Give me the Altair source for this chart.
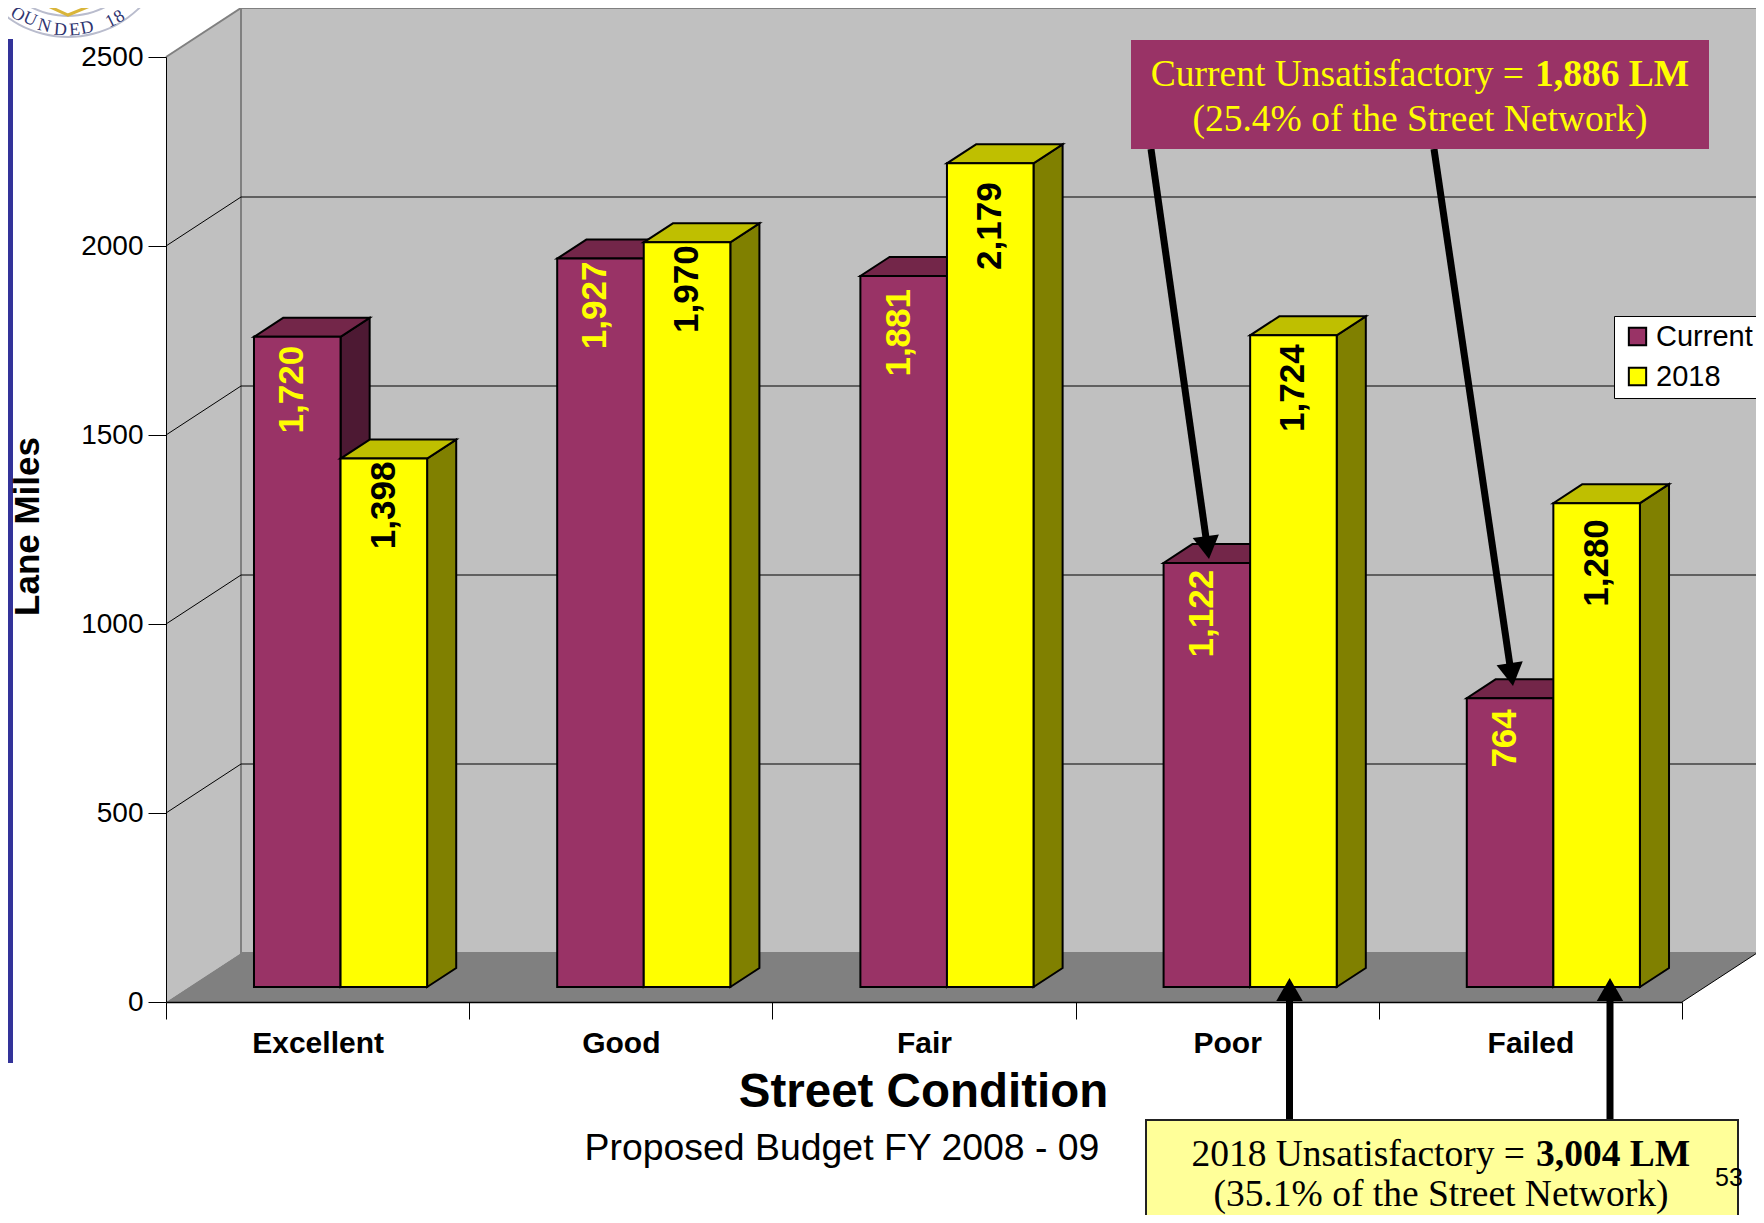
import math
import altair as alt
import pandas as pd

# ---- values
categories = ["Excellent", "Good", "Fair", "Poor", "Failed"]
current = [1720, 1927, 1881, 1122, 764]
future = [1398, 1970, 2179, 1724, 1280]
y_ticks = [0, 500, 1000, 1500, 2000, 2500]

# ---- layout of the 3D box (page pixels)
X0, Y0, PX_U, PX_V = 166.0, 1002.0, 303.2, 0.378
DX = 75 / PX_U          # full depth in category units
DY = 49 / PX_V          # full depth in value units
D0, D1 = 0.306, 0.694   # depth span of the bars
HALF = 0.2855           # bar width in category units
PURPLE, PURPLE_TOP, PURPLE_SIDE = "#993366", "#732649", "#4d1933"
YELLOW, YELLOW_TOP, YELLOW_SIDE = "#ffff00", "#bfbf00", "#808000"
GAP_CUR = [9, 3, 13, 7, 11]
GAP_FUT = [3, 3, 19, 9, 16]
LABEL_SHIFT = {-1: -5.0, 0: 0.0}


def U(px):
    return (px - X0) / PX_U


def V(py):
    return (Y0 - py) / PX_V


xs = alt.Scale(domain=[0, 5], range=[0, 1516], nice=False, zero=False)
ys = alt.Scale(domain=[0, 2500], range=[945, 0], nice=False, zero=False)

x_axis = alt.Axis(
    values=list(range(6)),
    labelExpr="['" + "','".join(categories) + "',''][datum.value]",
    labelOffset=151.6, labelAngle=0, labelFont="Liberation Sans", labelFontWeight="bold",
    labelFontSize=30, labelColor="black", labelPadding=9, labelOverlap=False, labelFlush=False,
    labelBound=False, tickSize=17, tickColor="black", domainColor="black", domainWidth=1.5, grid=False,
    title="Street Condition", titleFont="Liberation Sans", titleFontWeight="bold", titleFontSize=47.5,
    titleColor="black", titleX=757, titleY=104, titleAlign="center", titleBaseline="alphabetic",
    zindex=1,
)
y_axis = alt.Axis(
    values=y_ticks, format="d", labelFont="Liberation Sans", labelFontSize=28, labelColor="black",
    labelPadding=5, tickSize=18, tickColor="black", domainColor="black", grid=False,
    title="Lane Miles", titleFont="Liberation Sans", titleFontWeight="bold", titleFontSize=35,
    titleColor="black", titleX=-139, titleY=469, titleAngle=270, titleAlign="center", titleBaseline="middle",
    zindex=1,
)


def X(f="u"):
    return alt.X(f"{f}:Q", scale=xs, axis=x_axis)


def Y(f="v"):
    return alt.Y(f"{f}:Q", scale=ys, axis=y_axis)


def faces(values, left_of):
    side, top, front = [], [], []
    for i, v in enumerate(values):
        ul = i + 0.5 + left_of * HALF
        ur = ul + HALF
        for d in (D0, D1):
            side.append(dict(k=i, u=ur + DX * d, v=v + DY * d, b=DY * d))
            top.append(dict(k=i, u=ul + DX * d, u2=ur + DX * d, v=v + DY * d))
        front.append(dict(u=ul + DX * D0, u2=ur + DX * D0, v=v + DY * D0, b=DY * D0))
    return pd.DataFrame(side), pd.DataFrame(top), pd.DataFrame(front)


def bar_layers(values, series, c_top, c_side, left_of):
    s, t, f = faces(values, left_of)
    f["series"] = series
    return [
        alt.Chart(s).mark_area(fill=c_side, stroke="black", strokeWidth=2, opacity=1).encode(
            x=X(), y=Y(), y2="b:Q", detail="k:N"),
        alt.Chart(t).mark_area(orient="horizontal", fill=c_top, stroke="black", strokeWidth=2, opacity=1).encode(
            y=Y(), x=X(), x2="u2:Q", detail="k:N"),
        alt.Chart(f).mark_rect(stroke="black", strokeWidth=2).encode(
            x=X(), x2="u2:Q", y=Y(), y2="b:Q",
            fill=alt.Fill("series:N", scale=alt.Scale(domain=["Current", "2018"], range=[PURPLE, YELLOW]),
                          legend=alt.Legend(orient="none", legendX=1448, legendY=259, title=None,
                                            fillColor="white", strokeColor="black", padding=6,
                                            symbolType="square", symbolSize=300, symbolStrokeWidth=2,
                                            symbolStrokeColor="black", symbolOpacity=1, symbolOffset=3,
                                            labelFont="Liberation Sans", labelFontSize=29, labelColor="black",
                                            rowPadding=10, labelLimit=200, offset=0))),
    ]


# ---- box
left_wall = pd.DataFrame(dict(u=[0, DX], v=[2500, 2500 + DY], b=[0, DY]))
back_wall = pd.DataFrame(dict(u=[DX], u2=[5 + DX], v=[2500 + DY], b=[DY]))
floor = pd.DataFrame(dict(u=[0, DX], u2=[5, 5 + DX], v=[0, DY]))
grid_vals = [v for v in y_ticks if 0 < v < 2500]
grid_back = pd.DataFrame(dict(u=DX, u2=5 + DX, v=[g + DY for g in grid_vals]))
grid_side = pd.DataFrame(dict(u=0.0, u2=DX, v=grid_vals, v2=[g + DY for g in grid_vals]))
edge_gray = pd.DataFrame(dict(u=[0.0], u2=[DX], v=[2500.0], v2=[2500 + DY]))
edge_blk = pd.DataFrame(dict(u=[5.0], u2=[5 + DX], v=[0.0], v2=[DY]))

layers = [
    alt.Chart(left_wall).mark_area(fill="#c0c0c0", opacity=1).encode(x=X(), y=Y(), y2="b:Q"),
    alt.Chart(back_wall).mark_rect(fill="#c0c0c0", stroke="#808080", strokeWidth=2).encode(
        x=X(), x2="u2:Q", y=Y(), y2="b:Q"),
    alt.Chart(floor).mark_area(orient="horizontal", fill="#808080", opacity=1).encode(
        y=Y(), x=X(), x2="u2:Q"),
    alt.Chart(grid_back).mark_rule(color="black", strokeWidth=1).encode(x=X(), x2="u2:Q", y=Y()),
    alt.Chart(grid_side).mark_rule(color="black", strokeWidth=1).encode(x=X(), x2="u2:Q", y=Y(), y2="v2:Q"),
    alt.Chart(edge_gray).mark_rule(color="#808080", strokeWidth=2).encode(x=X(), x2="u2:Q", y=Y(), y2="v2:Q"),
    alt.Chart(edge_blk).mark_rule(color="black", strokeWidth=1).encode(x=X(), x2="u2:Q", y=Y(), y2="v2:Q"),
]
layers += bar_layers(current, "Current", PURPLE_TOP, PURPLE_SIDE, -1)
layers += bar_layers(future, "2018", YELLOW_TOP, YELLOW_SIDE, 0)


# ---- value labels on the bars
def label_frame(values, gaps, left_of):
    return pd.DataFrame(dict(
        u=[i + 0.5 + (left_of + 0.5) * HALF + DX * D0 + LABEL_SHIFT[left_of] / PX_U for i in range(5)],
        v=[v + DY * D0 - g / PX_V for v, g in zip(values, gaps)],
        t=[f"{v:,}" for v in values]))


for vals, gaps, side, col in ((current, GAP_CUR, -1, "#ffff00"), (future, GAP_FUT, 0, "black")):
    layers.append(alt.Chart(label_frame(vals, gaps, side)).mark_text(
        angle=270, align="right", baseline="middle", font="Liberation Sans", fontWeight="bold",
        fontSize=35, color=col).encode(x=X(), y=Y(), text="t:N"))


def box(x1, x2, y1, y2, fill, stroke=None):
    d = pd.DataFrame(dict(u=[U(x1)], u2=[U(x2)], v=[V(y1)], b=[V(y2)]))
    kw = dict(stroke=stroke, strokeWidth=2) if stroke else {}
    return alt.Chart(d).mark_rect(fill=fill, **kw).encode(x=X(), x2="u2:Q", y=Y(), y2="b:Q")


def text(x, y, s, size, color, font, align="center", weight="normal", angle=0):
    d = pd.DataFrame(dict(u=[U(x)], v=[V(y)], t=[s]))
    return alt.Chart(d).mark_text(align=align, baseline="alphabetic", font=font, fontSize=size,
                                  color=color, fontWeight=weight, angle=angle).encode(
        x=X(), y=Y(), text="t:N")


def arrow(x1, y1, x2, y2):
    L = math.hypot(x2 - x1, y2 - y1)
    ux, uy = (x2 - x1) / L, (y2 - y1) / L
    ang = (math.degrees(math.atan2(ux, -uy))) % 360
    tip = 11.5
    shaft = pd.DataFrame(dict(u=[U(x1)], u2=[U(x2 - ux * 15)], v=[V(y1)], v2=[V(y2 - uy * 15)]))
    head = pd.DataFrame(dict(u=[U(x2 - ux * tip)], v=[V(y2 - uy * tip)]))
    return [
        alt.Chart(shaft).mark_rule(color="black", strokeWidth=7).encode(x=X(), x2="u2:Q", y=Y(), y2="v2:Q"),
        alt.Chart(head).mark_point(shape="triangle-up", filled=True, size=700, color="black", opacity=1,
                                   angle=ang, strokeWidth=0).encode(x=X(), y=Y()),
    ]


# ---- annotation boxes, arrows and page furniture
SERIF, SANS = "Liberation Serif", "Liberation Sans"
layers += arrow(1151, 149, 1209, 559) + arrow(1434, 149, 1513, 686)
layers += arrow(1289.5, 1120, 1289.5, 978) + arrow(1610, 1120, 1610, 978)
legend_edge = pd.DataFrame(dict(u=[U(1755)], v=[V(316)], v2=[V(396)]))
layers += [
    box(1131, 1709, 40, 149, PURPLE),
    text(1524, 86, "Current Unsatisfactory =", 37.5, "#ffff00", SERIF, "right"),
    text(1535, 86, "1,886 LM", 37.5, "#ffff00", SERIF, "left", "bold"),
    text(1420, 131, "(25.4% of the Street Network)", 37.5, "#ffff00", SERIF),
    box(1146, 1738, 1120, 1240, "#ffff99", "#222222"),
    text(1525, 1166, "2018 Unsatisfactory =", 37.5, "black", SERIF, "right"),
    text(1536, 1166, "3,004 LM", 37.5, "black", SERIF, "left", "bold"),
    text(1441, 1206, "(35.1% of the Street Network)", 37.5, "black", SERIF),
    text(1729, 1186, "53", 25, "black", SANS),
    text(842, 1160, "Proposed Budget FY 2008 - 09", 37.4, "black", SANS),
    box(6, 13, 39, 1063, "#333399"),
    alt.Chart(legend_edge).mark_rule(color="black", strokeWidth=1).encode(x=X(), y=Y(), y2="v2:Q"),
]

# ---- fragment of the seal at the top left
seal_x, seal_y = 68.0, -65.0
for r, r2, col in ((103, 101, "#b9bccd"), (82, 80, "#b9bccd")):
    layers.append(alt.Chart(pd.DataFrame(dict(u=[U(seal_x)], v=[V(seal_y)]))).mark_arc(
        radius=r, radius2=r2, theta=math.pi - 1.0, theta2=math.pi + 1.0, fill=col).encode(x=X(), y=Y()))
seal_letters = list("OUNDED18")
seal_px = [15, 28, 43, 60, 75, 88, 113, 122]
seal_py = [19, 24, 31, 35, 35, 33, 26, 21]
for ch, lx, ly in zip(seal_letters, seal_px, seal_py):
    a = -math.degrees(math.atan2(lx - seal_x, ly - seal_y))
    layers.append(text(lx, ly, ch, 18, "#2f3570", SERIF, angle=a % 360))
diamond = pd.DataFrame(dict(u=[U(48), U(68), U(90)], v=[V(6), V(15), V(6)]))
layers.append(alt.Chart(diamond).mark_line(color="#d9b53a", strokeWidth=3).encode(
    x=alt.X("u:Q", scale=xs, axis=x_axis, sort=None), y=Y()))

chart = alt.layer(*layers).properties(
    width=1516, height=945,
    padding={"left": 158, "top": 49, "right": 74, "bottom": 213},
    autosize=alt.AutoSizeParams(type="none"),
    background="white",
).configure_view(stroke=None)

chart.save("out.html", embed_options={"renderer": "svg", "actions": False})
